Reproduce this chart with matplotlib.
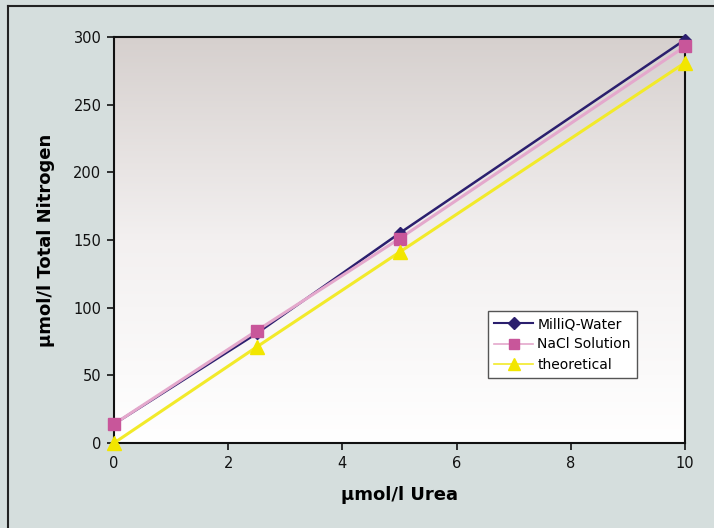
import numpy as np
import matplotlib
matplotlib.use("Agg")
import matplotlib.pyplot as plt
from matplotlib.colors import LinearSegmentedColormap
from matplotlib.lines import Line2D

urea = [0, 2.5, 5, 10]
milliq = [14, 81, 155, 298]
nacl = [14, 83, 151, 293]
theoretical = [0, 71, 141, 281]
series_names = ["MilliQ-Water", "NaCl Solution", "theoretical"]
x_ticks = [0, 2, 4, 6, 8, 10]
y_ticks = [0, 50, 100, 150, 200, 250, 300]

plt.rcParams["font.family"] = ["DejaVu Sans"]

bg = "#d5dedd"
fig = plt.figure(figsize=(7.14, 5.28), dpi=100, facecolor=bg)
ax = fig.add_axes([114/714, 1-443/528, (685-114)/714, (443-37)/528])

# gradient background
cmap = LinearSegmentedColormap.from_list("g", ["#ffffff", "#f3f0f0", "#d6d0ce"])
grad = np.linspace(0, 1, 256).reshape(-1, 1)
ax.imshow(grad, extent=[0, 10, 0, 300], origin="lower", aspect="auto", cmap=cmap, zorder=0)

ax.plot(urea, milliq, color="#2b1f6e", lw=1.8, marker="D", ms=6, mfc="#2b1f6e", mec="#2b1f6e", zorder=3, clip_on=False)
ax.plot(urea, nacl, color="#e4a8cc", lw=2.2, marker="s", ms=9, mfc="#c8569a", mec="#c8569a", zorder=4, clip_on=False)
ax.plot(urea, theoretical, color="#f2ea2a", lw=2.2, marker="^", ms=10, mfc="#f2e600", mec="#f2e600", zorder=5, clip_on=False)

ax.set_xlim(0, 10)
ax.set_ylim(0, 300)
ax.set_xticks(x_ticks)
ax.set_yticks(y_ticks)
ax.tick_params(direction="out", length=5, width=1.2, labelsize=10.5, colors="#111111", pad=4)
for s in ax.spines.values():
    s.set_linewidth(1.5)
    s.set_color("#111111")

ax.set_xlabel("µmol/l Urea", fontsize=13, fontweight="bold", labelpad=11)
ax.set_ylabel("µmol/l Total Nitrogen", fontsize=13, fontweight="bold", labelpad=13)

handles = [
    Line2D([], [], color="#2b1f6e", lw=1.5, marker="D", ms=6, mfc="#2b1f6e"),
    Line2D([], [], color="#e4a8cc", lw=1.2, marker="s", ms=7, mfc="#c8569a", mec="#c8569a"),
    Line2D([], [], color="#f2ea2a", lw=1.2, marker="^", ms=8, mfc="#f2e600", mec="#f2e600"),
]
leg = ax.legend(handles, series_names, loc="upper left", bbox_to_anchor=((488-114)/571, (443-311)/406),
                fontsize=10, frameon=True, fancybox=False, framealpha=1, edgecolor="#555555",
                handlelength=2.8, borderpad=0.45, labelspacing=0.45, handletextpad=0.3, borderaxespad=0)
leg.get_frame().set_facecolor("white")
leg.get_frame().set_linewidth(1.0)

# frame lines top and left
fig.add_artist(Line2D([8/714, 8/714], [0, 1-6/528], transform=fig.transFigure, color="#222222", lw=1.5))
fig.add_artist(Line2D([8/714, 1], [1-6/528, 1-6/528], transform=fig.transFigure, color="#222222", lw=1.5))

fig.savefig("out.png", dpi=100, facecolor=bg)
